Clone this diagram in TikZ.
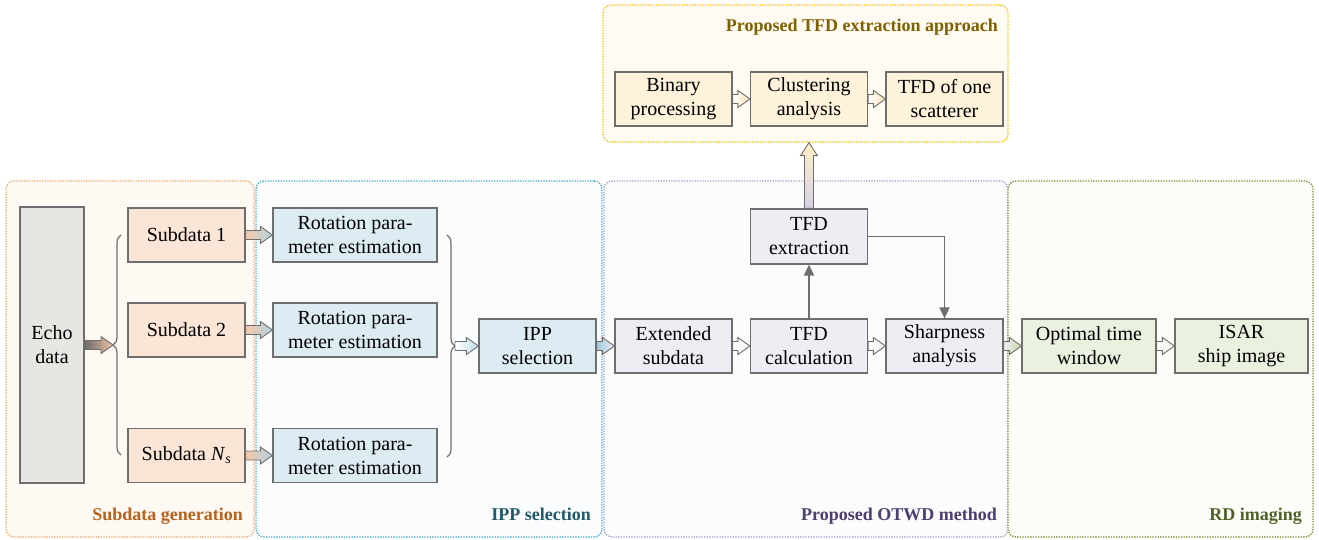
\documentclass[tikz,border=0pt]{standalone}
\usepackage{fontspec}
\setmainfont{Liberation Serif}
\usetikzlibrary{arrows.meta,calc,decorations.pathreplacing}
\definecolor{boxgray}{HTML}{6E6E6E}
\definecolor{echofill}{HTML}{E8E6E3}
\definecolor{sdfill}{HTML}{FBE5D6}
\definecolor{rotfill}{HTML}{DDEBF3}
\definecolor{otfill}{HTML}{EEEDF4}
\definecolor{rdfill}{HTML}{EAF1DF}
\definecolor{apfill}{HTML}{FEF2DA}
\definecolor{gAfill}{HTML}{FFF9F3}
\definecolor{gBfill}{HTML}{FAFCFE}
\definecolor{gCfill}{HTML}{FCFCFD}
\definecolor{gDfill}{HTML}{FCFCF8}
\definecolor{gEfill}{HTML}{FFFBF2}
\definecolor{gAline}{HTML}{F2A56E}
\definecolor{gBline}{HTML}{3FA9D2}
\definecolor{gCline}{HTML}{A699D2}
\definecolor{gDline}{HTML}{6E8F30}
\definecolor{gEline}{HTML}{FFBF00}
\definecolor{gAtext}{HTML}{B8621E}
\definecolor{gBtext}{HTML}{215968}
\definecolor{gCtext}{HTML}{4C3E6E}
\definecolor{gDtext}{HTML}{4F6228}
\definecolor{gEtext}{HTML}{7F6000}
\definecolor{arrA}{HTML}{6B6B6B}
\definecolor{arrB}{HTML}{F2C4A4}
\definecolor{arrC}{HTML}{F6C9A9}
\definecolor{arrD}{HTML}{B3D2E2}
\definecolor{arrE}{HTML}{BFE0EE}
\definecolor{arrF}{HTML}{A3C8DE}
\definecolor{arrG}{HTML}{C6D9A8}
\definecolor{arrH}{HTML}{FBE3B3}
\definecolor{arrI}{HTML}{D6D0E5}
\definecolor{arrJ}{HTML}{FFF0C4}
\newcommand\harr[4]{\path[draw=boxgray, line width=0.9pt, left color=#3, right color=#4]
  let \p1=(#1), \p2=(#2) in
  (\x1,\y1+4.5pt) -- (\x2-12pt,\y1+4.5pt) -- (\x2-12pt,\y1+8.5pt) -- (\x2,\y1) --
  (\x2-12pt,\y1-8.5pt) -- (\x2-12pt,\y1-4.5pt) -- (\x1,\y1-4.5pt) -- cycle;}
\newcommand\varr[4]{\path[draw=boxgray, line width=0.9pt, bottom color=#3, top color=#4]
  let \p1=(#1), \p2=(#2) in
  (\x1-4.5pt,\y1) -- (\x1-4.5pt,\y2-13pt) -- (\x1-8.5pt,\y2-13pt) -- (\x1,\y2) --
  (\x1+8.5pt,\y2-13pt) -- (\x1+4.5pt,\y2-13pt) -- (\x1+4.5pt,\y1) -- cycle;}
\begin{document}
\begin{tikzpicture}[x=1pt,y=-1pt,
  box/.style={draw=boxgray, line width=1.2pt, inner sep=0pt, align=center,
    font=\fontsize{20}{24}\selectfont, text=black},
  group/.style={line width=1.3pt, dash pattern=on 1.3pt off 1.3pt, rounded corners=8pt, inner sep=0pt},
  glabel/.style={font=\fontsize{18}{20}\selectfont\bfseries, anchor=base east, inner sep=0pt},
  thinarr/.style={draw=boxgray, line width=1.7pt, -{Triangle[length=11pt,width=10pt]}},
  bracestyle/.style={draw=boxgray, line width=1.2pt, decorate, decoration={brace, amplitude=8pt}}]
\useasboundingbox (0,0) rectangle (1319,540);
\fill[white] (0,0) rectangle (1319,540);
% groups
\node[group, draw=gAline, fill=gAfill, minimum width=248, minimum height=356] (gA) at (130,359) {};
\node[group, draw=gBline, fill=gBfill, minimum width=346, minimum height=356] (gB) at (429,359) {};
\node[group, draw=gCline, fill=gCfill, minimum width=404, minimum height=356] (gC) at (806,359) {};
\node[group, draw=gDline, fill=gDfill, minimum width=305, minimum height=356] (gD) at (1160.5,359) {};
\node[group, draw=gEline, fill=gEfill, minimum width=405, minimum height=137] (gE) at (805.5,73.5) {};
\node[glabel, text=gAtext] (lA) at (243,520) {Subdata generation};
\node[glabel, text=gBtext] (lB) at (591,520) {IPP selection};
\node[glabel, text=gCtext] (lC) at (997,520) {Proposed OTWD method};
\node[glabel, text=gDtext] (lD) at (1302,520) {RD imaging};
\node[glabel, text=gEtext] (lE) at (998,32) {Proposed TFD extraction approach};
% nodes
\node[box, fill=echofill, minimum width=64, minimum height=276] (echo) at (52,345) {Echo\\data};
\node[box, fill=sdfill, minimum width=117, minimum height=54] (sd1) at (186.5,235) {Subdata 1};
\node[box, fill=sdfill, minimum width=117, minimum height=54] (sd2) at (186.5,330) {Subdata 2};
\node[box, fill=sdfill, minimum width=117, minimum height=54] (sd3) at (186.5,455.5) {Subdata \textit{N}\textsubscript{\textit{s}}};
\node[box, fill=rotfill, minimum width=164, minimum height=54] (rot1) at (355,235) {Rotation para-\\meter estimation};
\node[box, fill=rotfill, minimum width=164, minimum height=54] (rot2) at (355,330) {Rotation para-\\meter estimation};
\node[box, fill=rotfill, minimum width=164, minimum height=54] (rot3) at (355,455.5) {Rotation para-\\meter estimation};
\node[box, fill=rotfill, minimum width=117, minimum height=54] (ipp) at (537.5,346) {IPP\\selection};
\node[box, fill=otfill, minimum width=117, minimum height=54] (ext) at (673.5,346) {Extended\\subdata};
\node[box, fill=otfill, minimum width=117, minimum height=54] (calc) at (809,346) {TFD\\calculation};
\node[box, fill=otfill, minimum width=117, minimum height=54] (sharp) at (944.5,346) {Sharpness\\analysis};
\node[box, fill=otfill, minimum width=117, minimum height=55] (tfdx) at (809,236.5) {TFD\\extraction};
\node[box, fill=rdfill, minimum width=134, minimum height=54] (opt) at (1089,346) {Optimal time\\window};
\node[box, fill=rdfill, minimum width=133, minimum height=54] (isar) at (1241.5,346) {ISAR\\ship image};
\node[box, fill=apfill, minimum width=117, minimum height=54] (bin) at (673.5,99) {Binary\\processing};
\node[box, fill=apfill, minimum width=117, minimum height=54] (clus) at (809,99) {Clustering\\analysis};
\node[box, fill=apfill, minimum width=117, minimum height=54] (one) at (944.5,99) {TFD of one\\scatterer};
% braces
\coordinate (bAtop) at (121,235);
\coordinate (bAbot) at (121,455);
\coordinate (bAtip) at (113,345);
\coordinate (bBtop) at (447,235);
\coordinate (bBbot) at (447,457);
\coordinate (bBtip) at (455,346);
\draw[bracestyle] (bAbot) -- (bAtop);
\draw[bracestyle] (bBtop) -- (bBbot);
% fat arrows
\harr{echo.east}{bAtip}{arrA}{arrB}
\harr{sd1.east}{rot1.west}{arrC}{arrD}
\harr{sd2.east}{rot2.west}{arrC}{arrD}
\harr{sd3.east}{rot3.west}{arrC}{arrD}
\harr{bBtip}{ipp.west}{white}{arrE}
\harr{ipp.east}{ext.west}{arrF}{otfill}
\harr{ext.east}{calc.west}{white}{otfill}
\harr{calc.east}{sharp.west}{white}{otfill}
\harr{sharp.east}{opt.west}{otfill}{arrG}
\harr{opt.east}{isar.west}{white}{rdfill}
\harr{bin.east}{clus.west}{white}{arrH}
\harr{clus.east}{one.west}{white}{arrH}
\varr{tfdx.north}{gE.south}{arrI}{arrJ}
% thin arrows
\draw[thinarr] (calc.north) -- (tfdx.south);
\draw[thinarr] (tfdx.east) -| (sharp.north);
\end{tikzpicture}
\end{document}
